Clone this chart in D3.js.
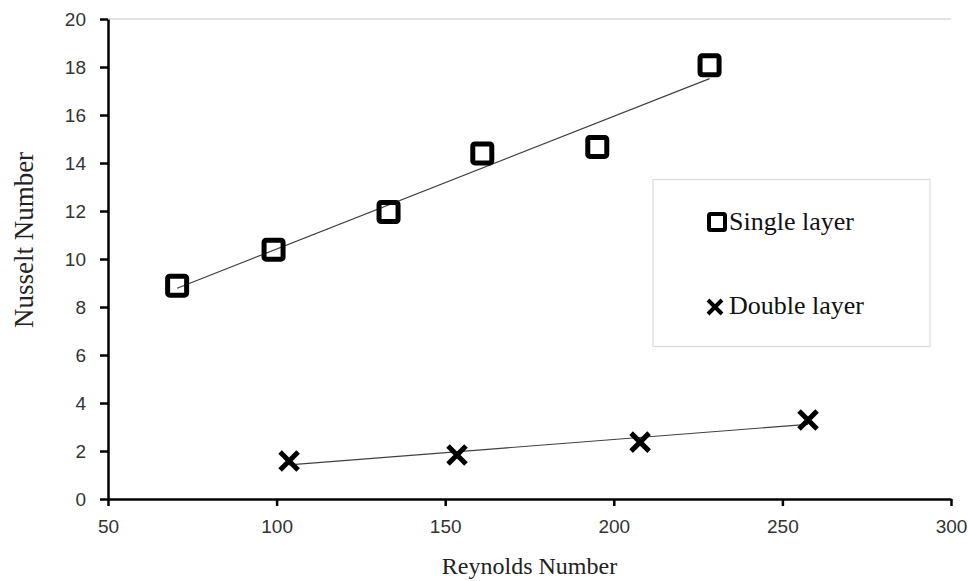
<!DOCTYPE html>
<html>
<head>
<meta charset="utf-8">
<script src="https://cdn.jsdelivr.net/npm/d3@7"></script>
<style>
  body { margin: 0; background: #fff; }
  svg { display: block; }
</style>
</head>
<body>
<div id="chart"></div>
<script>
// Nusselt vs Reynolds, single / double layer
var single_re = [70.5, 99.1, 133.2, 161.0, 195.1, 228.4];
var single_nu = [8.89, 10.39, 11.96, 14.40, 14.67, 18.07];
var double_re = [103.7, 153.5, 207.8, 257.6];
var double_nu = [1.58, 1.83, 2.37, 3.29];
var x_ticks = [50, 100, 150, 200, 250, 300];
var y_ticks = [0, 2, 4, 6, 8, 10, 12, 14, 16, 18, 20];
var legend_names = ["Single layer", "Double layer"];

var margin = { top: 19, right: 17, bottom: 82, left: 108 },
    width = 968 - margin.left - margin.right,
    height = 581 - margin.top - margin.bottom;

var svg = d3.select("#chart")
    .append("svg")
    .attr("width", 968)
    .attr("height", 581);

var g = svg.append("g").attr("transform", "translate(" + margin.left + "," + margin.top + ")");

var x = d3.scaleLinear().domain([50, 300]).range([0, width]);
var y = d3.scaleLinear().domain([0, 20]).range([height, 0]);

// top border of plot area, light grey
g.append("line")
    .attr("x1", 0).attr("x2", width)
    .attr("y1", y(20)).attr("y2", y(20))
    .attr("stroke", "#d9d9d9").attr("stroke-width", 1.5);

// linear trend line from least squares
function fit(xs, ys) {
    var mx = d3.mean(xs), my = d3.mean(ys);
    var sxy = 0, sxx = 0;
    for (var i = 0; i < xs.length; i++) {
        sxy += (xs[i] - mx) * (ys[i] - my);
        sxx += (xs[i] - mx) * (xs[i] - mx);
    }
    var b = sxy / sxx;
    return function (v) { return my + b * (v - mx); };
}

var f1 = fit(single_re, single_nu);
var f2 = fit(double_re, double_nu);

[[single_re, f1], [double_re, f2]].forEach(function (s) {
    var x0 = d3.min(s[0]), x1 = d3.max(s[0]);
    g.append("line")
        .attr("x1", x(x0)).attr("y1", y(s[1](x0)))
        .attr("x2", x(x1)).attr("y2", y(s[1](x1)))
        .attr("stroke", "#404040")
        .attr("stroke-width", 1.2);
});

// axes
var xAxis = g.append("g")
    .attr("transform", "translate(0," + height + ")")
    .call(d3.axisBottom(x).tickValues(x_ticks).tickSize(7).tickPadding(14).tickSizeOuter(0));
var yAxis = g.append("g")
    .call(d3.axisLeft(y).tickValues(y_ticks).tickSize(8).tickPadding(14).tickSizeOuter(0));

[xAxis, yAxis].forEach(function (a) {
    a.select(".domain").attr("stroke", "#000").attr("stroke-width", 2.5);
    a.selectAll(".tick line").attr("stroke", "#000").attr("stroke-width", 2.5);
    a.selectAll(".tick text")
        .attr("fill", "#333")
        .style("font-family", "'Liberation Sans', Arial, sans-serif")
        .style("font-size", "19px");
});

// markers
var sq = 19;
g.append("g").selectAll("rect")
    .data(single_re.map(function (d, i) { return [d, single_nu[i]]; }))
    .enter().append("rect")
    .attr("x", function (d) { return x(d[0]) - sq / 2; })
    .attr("y", function (d) { return y(d[1]) - sq / 2; })
    .attr("width", sq)
    .attr("height", sq)
    .attr("rx", 2)
    .attr("fill", "none")
    .attr("stroke", "#000")
    .attr("stroke-width", 5);

var cr = 9;
var cross = g.append("g").selectAll("g")
    .data(double_re.map(function (d, i) { return [d, double_nu[i]]; }))
    .enter().append("g")
    .attr("transform", function (d) { return "translate(" + x(d[0]) + "," + y(d[1]) + ")"; });
cross.append("path")
    .attr("d", "M" + (-cr) + "," + (-cr) + "L" + cr + "," + cr + "M" + cr + "," + (-cr) + "L" + (-cr) + "," + cr)
    .attr("stroke", "#000")
    .attr("stroke-width", 5);

// axis titles
svg.append("text")
    .attr("x", margin.left + width / 2)
    .attr("y", 574)
    .attr("text-anchor", "middle")
    .style("font-family", "'Liberation Serif', 'Times New Roman', serif")
    .style("font-size", "24px")
    .attr("fill", "#222")
    .text("Reynolds Number");

svg.append("text")
    .attr("transform", "translate(33,240) rotate(-90)")
    .attr("text-anchor", "middle")
    .style("font-family", "'Liberation Serif', 'Times New Roman', serif")
    .style("font-size", "27px")
    .attr("fill", "#222")
    .text("Nusselt Number");

// legend
var legend = svg.append("g");
legend.append("rect")
    .attr("x", 653).attr("y", 179.5)
    .attr("width", 277).attr("height", 167)
    .attr("fill", "#fff")
    .attr("stroke", "#d9d9d9")
    .attr("stroke-width", 1.2);

legend.append("rect")
    .attr("x", 709).attr("y", 214)
    .attr("width", 16).attr("height", 16)
    .attr("rx", 1.5)
    .attr("fill", "none")
    .attr("stroke", "#000")
    .attr("stroke-width", 4);
legend.append("path")
    .attr("d", "M708,300L722,314M722,300L708,314")
    .attr("stroke", "#000")
    .attr("stroke-width", 4);

legend.selectAll("text.lg")
    .data(legend_names)
    .enter().append("text")
    .attr("class", "lg")
    .attr("x", 729)
    .attr("y", function (d, i) { return 230 + i * 84; })
    .style("font-family", "'Liberation Serif', 'Times New Roman', serif")
    .style("font-size", "26px")
    .attr("fill", "#111")
    .text(function (d) { return d; });
</script>
</body>
</html>
